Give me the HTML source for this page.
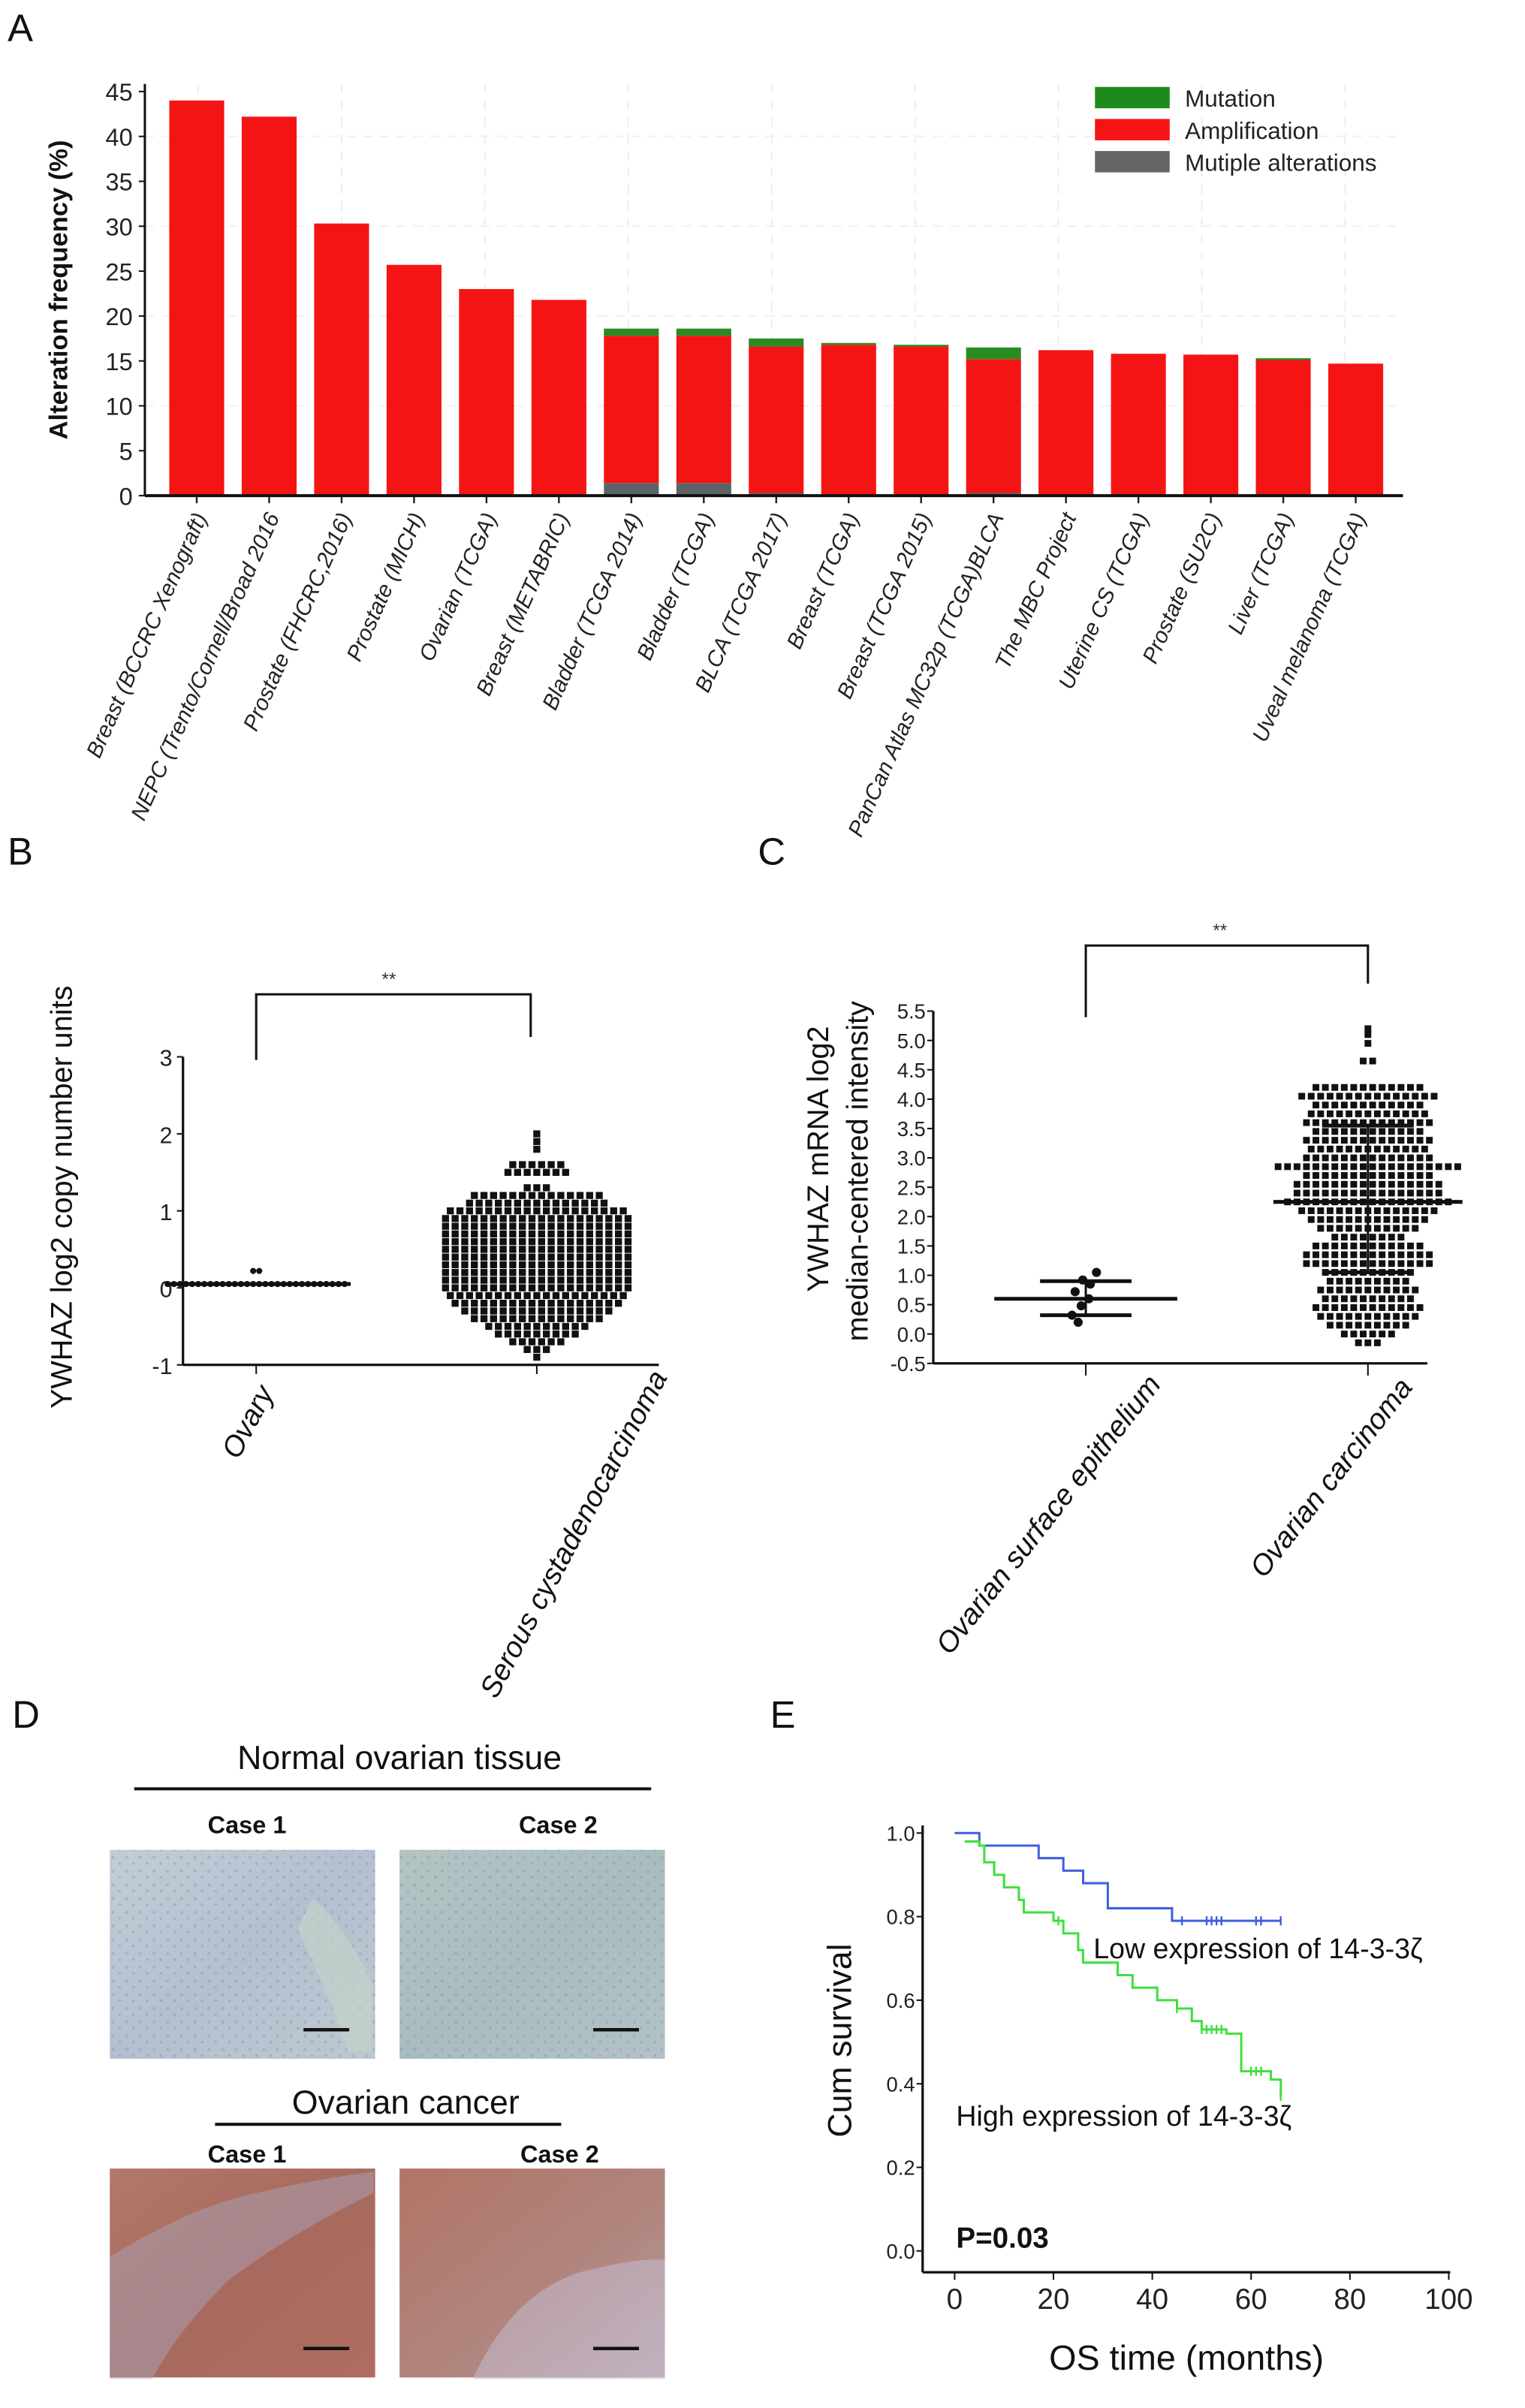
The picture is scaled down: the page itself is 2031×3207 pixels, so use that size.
<!DOCTYPE html>
<html><head><meta charset="utf-8"><style>
html,body{margin:0;padding:0;background:#fff;}
svg{display:block;}
text{font-family:"Liberation Sans Narrow","Liberation Sans",sans-serif;}
</style></head><body>
<svg id="fig" xmlns="http://www.w3.org/2000/svg" width="2031" height="3207" viewBox="0 0 1000 1579">
<defs>
<linearGradient id="gN1" x1="0" y1="0" x2="1" y2="1"><stop offset="0" stop-color="#c3cdd6"/><stop offset="0.5" stop-color="#b4c0cf"/><stop offset="1" stop-color="#bcc8cf"/></linearGradient>
<linearGradient id="gN2" x1="0" y1="0" x2="1" y2="1"><stop offset="0" stop-color="#b3c4c2"/><stop offset="0.5" stop-color="#a9bcc0"/><stop offset="1" stop-color="#b2c2c6"/></linearGradient>
<linearGradient id="gC1" x1="0" y1="0" x2="1" y2="1"><stop offset="0" stop-color="#b27868"/><stop offset="0.5" stop-color="#a86a5e"/><stop offset="1" stop-color="#b06c60"/></linearGradient>
<linearGradient id="gC2" x1="0" y1="0" x2="1" y2="1"><stop offset="0" stop-color="#b27466"/><stop offset="0.6" stop-color="#b0867f"/><stop offset="1" stop-color="#bba6ab"/></linearGradient>
<pattern id="speck" width="9" height="9" patternUnits="userSpaceOnUse"><circle cx="2" cy="3" r="1.1" fill="#7f8cb8" opacity="0.35"/><circle cx="6.5" cy="7" r="0.9" fill="#6b7aa8" opacity="0.3"/></pattern>
</defs>
</svg>
<script>
// ---------- Panel A data ----------
const aCategories = ["Breast (BCCRC Xenograft)","NEPC (Trento/Cornell/Broad 2016","Prostate (FHCRC,2016)","Prostate (MICH)","Ovarian (TCGA)","Breast (METABRIC)","Bladder (TCGA 2014)","Bladder (TCGA)","BLCA (TCGA 2017)","Breast (TCGA)","Breast (TCGA 2015)","PanCan Atlas MC32p (TCGA)BLCA","The MBC Project","Uterine CS (TCGA)","Prostate (SU2C)","Liver (TCGA)","Uveal melanoma (TCGA)"];
const aMultiple = [0,0,0,0,0,0,1.4,1.4,0.3,0,0,0.3,0,0,0,0,0];
const aAmplification = [44,42.2,30.3,25.7,23,21.8,16.4,16.4,16.3,16.8,16.6,14.9,16.2,15.8,15.7,15.1,14.7];
const aMutation = [0,0,0,0,0,0,0.8,0.8,0.9,0.2,0.2,1.3,0,0,0,0.2,0];
const aTicks = [0,5,10,15,20,25,30,35,40,45];
// ---------- Panel B data ----------
const bOvaryValues = [0.05,0.22];
const bOvaryCounts = [30,2];
const bSerousValues = [-0.9,-0.8,-0.7,-0.6,-0.5,-0.4,-0.3,-0.2,-0.1,0,0.1,0.2,0.3,0.4,0.5,0.6,0.7,0.8,0.9,1.0,1.1,1.2,1.3,1.5,1.6,1.8,1.9,2.0];
const bSerousCounts = [1,3,6,9,11,14,16,18,19,20,20,20,20,20,20,20,20,20,20,19,15,14,3,7,6,1,1,1];
const bTicks = [-1,0,1,2,3];
// ---------- Panel C data ----------
const cOSEValues = [1.05,0.92,0.85,0.72,0.6,0.48,0.32,0.2];
const cOSEMean = 0.6, cOSEUpper = 0.9, cOSELower = 0.32;
const cOCValues = [-0.15,0.0,0.15,0.3,0.45,0.6,0.75,0.9,1.05,1.2,1.35,1.5,1.65,1.8,1.95,2.1,2.25,2.4,2.55,2.7,2.85,3.0,3.15,3.3,3.45,3.6,3.75,3.9,4.05,4.2,4.65,4.95,5.1,5.2];
const cOCCounts = [3,6,9,11,12,10,11,9,10,14,14,12,8,11,13,15,18,16,16,14,20,14,13,14,12,14,13,12,15,12,2,1,1,1];
const cOCMean = 2.25, cOCUpper = 3.55, cOCLower = 1.05;
const cTicks = [-0.5,0.0,0.5,1.0,1.5,2.0,2.5,3.0,3.5,4.0,4.5,5.0,5.5];
// ---------- Panel E data ----------
const eLowTimes = [0,5,17,22,26,31,44,66];
const eLowSurv = [1.0,0.97,0.94,0.91,0.88,0.82,0.79,0.79];
const eLowCensor = [46,51,52,53,54,61,62,66];
const eHighTimes = [2,5,6,8,10,13,14,20,22,25,26,33,36,41,45,48,50,55,58,64,66];
const eHighSurv = [0.98,0.97,0.93,0.9,0.87,0.84,0.81,0.79,0.76,0.72,0.69,0.66,0.63,0.6,0.58,0.55,0.53,0.52,0.43,0.41,0.37];
const eHighCensor = [21,45,50,51,52,53,54,60,61,62,66];
const eXTicks = [0,20,40,60,80,100];
const eYTicks = [0.0,0.2,0.4,0.6,0.8,1.0];

const NS="http://www.w3.org/2000/svg";
const svg=document.getElementById('fig');
function mk(tag,attrs,parent){const e=document.createElementNS(NS,tag);for(const k in attrs)e.setAttribute(k,attrs[k]);(parent||svg).appendChild(e);return e;}
function tx(str,x,y,size,attrs){const a=Object.assign({x:x,y:y,'font-size':size},attrs||{});const e=mk('text',a);e.textContent=str;return e;}
let el;

[["A",5,27],["B",5,567],["C",497,567],["D",8,1133],["E",505,1133]].forEach(p=>{
  el=tx(p[0],p[1],p[2],25,{fill:'#111'});
  
  
});

// ===== Panel A =====
const aX0=95,aX1=920,aY0=325,aY45=60;
const ay=v=>aY0-(v/45)*(aY0-aY45);
const ax=i=>129+i*47.5;
for(let i=0;i<9;i++){el=mk('line',{x1:130+i*94,y1:55,x2:130+i*94,y2:325,stroke:'#eee','stroke-dasharray':'6,5','stroke-width':1});
}
aTicks.forEach(t=>{if(t%10===0&&t>0){el=mk('line',{x1:95,y1:ay(t),x2:920,y2:ay(t),stroke:'#f0f0f0','stroke-dasharray':'6,5'});
}});
aCategories.forEach((c,i)=>{
  const w=36,x=ax(i)-w/2;
  let base=0;
  if(aMultiple[i]>0){el=mk('rect',{x:x,y:ay(aMultiple[i]),width:w,height:ay(0)-ay(aMultiple[i]),fill:'#5a6466'});
    }
  base=aMultiple[i];
  el=mk('rect',{x:x,y:ay(base+aAmplification[i]),width:w,height:ay(base)-ay(base+aAmplification[i]),fill:'#f51414'});
  
  base+=aAmplification[i];
  if(aMutation[i]>0){el=mk('rect',{x:x,y:ay(base+aMutation[i]),width:w,height:ay(base)-ay(base+aMutation[i]),fill:'#2a8a22'});
    }
  el=mk('line',{x1:ax(i),y1:aY0,x2:ax(i),y2:aY0+5,stroke:'#222','stroke-width':1.2});
  
  el=tx(c,0,0,14.5,{'font-style':'italic','text-anchor':'end',fill:'#222',transform:`translate(${ax(i)+7},${aY0+14}) rotate(-66)`});
  
});
el=mk('line',{x1:aX0,y1:aY0,x2:aX1,y2:aY0,stroke:'#111','stroke-width':2});

el=mk('line',{x1:aX0,y1:aY0,x2:aX0,y2:55,stroke:'#111','stroke-width':1.5});

aTicks.forEach(t=>{
  el=mk('line',{x1:aX0-4,y1:ay(t),x2:aX0,y2:ay(t),stroke:'#111'});
  
  el=tx(String(t),aX0-8,ay(t)+6,16,{'text-anchor':'end',fill:'#222'});
  
});
el=tx("Alteration frequency (%)",0,0,17,{'font-weight':'bold','text-anchor':'middle',fill:'#111',transform:'translate(44,190) rotate(-90)',style:'font-family:"Liberation Sans",sans-serif'});

[["#1e8a1e","Mutation",57],["#f51414","Amplification",78],["#666","Mutiple alterations",99]].forEach((l,i)=>{
  el=mk('rect',{x:718,y:l[2],width:49,height:14,fill:l[0]});
  
  el=tx(l[1],777,l[2]+13,15.5,{fill:'#222'});
  
});

// ===== Panel B =====
const bAx=120,bY0=895,bYtop=693;
const by=v=>bY0-(v+1)/4*(bY0-bYtop);
const bOvX=168,bSeX=352;
el=mk('line',{x1:bAx,y1:bYtop,x2:bAx,y2:bY0,stroke:'#111','stroke-width':1.6});

el=mk('line',{x1:bAx,y1:bY0,x2:432,y2:bY0,stroke:'#111','stroke-width':1.6});

bTicks.forEach(t=>{
  el=mk('line',{x1:bAx-4,y1:by(t),x2:bAx,y2:by(t),stroke:'#111'});
  
  el=tx(String(t),bAx-7,by(t)+6,15,{'text-anchor':'end',fill:'#222'});
  
});
[bOvX,bSeX].forEach(x=>{el=mk('line',{x1:x,y1:bY0,x2:x,y2:bY0+6,stroke:'#111'});
});
function swarm(cx,vals,counts,yf,size,sp,name,round){
  vals.forEach((v,i)=>{const n=counts[i];for(let k=0;k<n;k++){const off=(k-(n-1)/2)*sp;
    if(round){el=mk('circle',{cx:cx+off,cy:yf(v),r:size/2,fill:'#111'});}
    else{el=mk('rect',{x:cx+off-size/2,y:yf(v)-size/2,width:size,height:size,fill:'#111'});}
    }});
}
swarm(bOvX,bOvaryValues,bOvaryCounts,by,4,4,'point-ovary',true);
swarm(bSeX,bSerousValues,bSerousCounts,by,4.6,6.3,'point-serous',false);
el=mk('line',{x1:bOvX-60,y1:by(0.05),x2:bOvX+62,y2:by(0.05),stroke:'#111','stroke-width':2.5});

el=mk('polyline',{points:`${bOvX},695 ${bOvX},652 348,652 348,680`,fill:'none',stroke:'#111','stroke-width':1.5});

el=tx("**",255,646,12,{'text-anchor':'middle',fill:'#333'});

el=tx("YWHAZ log2 copy number units",0,0,19.5,{'text-anchor':'middle',fill:'#111',transform:'translate(47,785) rotate(-90)',style:'font-family:"Liberation Sans",sans-serif'});

el=tx("Ovary",0,0,19,{'font-style':'italic','text-anchor':'end',fill:'#111',transform:`translate(${bOvX+12},${bY0+18}) rotate(-62)`,style:'font-family:"Liberation Sans",sans-serif'});

el=tx("Serous cystadenocarcinoma",0,0,19,{'font-style':'italic','text-anchor':'end',fill:'#111',transform:`translate(${bSeX+86},${bY0+8}) rotate(-62)`,style:'font-family:"Liberation Sans",sans-serif'});


// ===== Panel C =====
const cAx=612,cY0=894,cYtop=663;
const cy=v=>cY0-(v+0.5)/6*(cY0-cYtop);
const cOSEX=712,cOCX=897;
el=mk('line',{x1:cAx,y1:cYtop,x2:cAx,y2:cY0,stroke:'#111','stroke-width':1.6});

el=mk('line',{x1:cAx,y1:cY0,x2:936,y2:cY0,stroke:'#111','stroke-width':1.6});

cTicks.forEach(t=>{
  el=mk('line',{x1:cAx-4,y1:cy(t),x2:cAx,y2:cy(t),stroke:'#111'});
  
  el=tx(t.toFixed(1),cAx-5,cy(t)+5,13.5,{'text-anchor':'end',fill:'#222'});
  
});
[cOSEX,cOCX].forEach(x=>{el=mk('line',{x1:x,y1:cY0,x2:x,y2:cY0+8,stroke:'#111'});
});
cOSEValues.forEach((v,i)=>{const off=[7,-2,3,-7,2,-3,-9,-5][i%8];
  el=mk('circle',{cx:cOSEX+off,cy:cy(v),r:3,fill:'#111'});
  });
swarm(cOCX,cOCValues,cOCCounts,cy,4.4,6.2,'point-oc',false);
function hl(x,y,w,name,sw){el=mk('line',{x1:x-w,y1:y,x2:x+w,y2:y,stroke:'#111','stroke-width':sw});}
hl(cOSEX,cy(cOSEMean),60,'mean-line-ose',2.5);hl(cOSEX,cy(cOSEUpper),30,'sd-line-ose',2.5);hl(cOSEX,cy(cOSELower),30,'sd-line-ose',2.5);
el=mk('line',{x1:cOSEX,y1:cy(cOSEUpper),x2:cOSEX,y2:cy(cOSELower),stroke:'#111','stroke-width':1.5});

hl(cOCX,cy(cOCMean),62,'mean-line-oc',2.5);hl(cOCX,cy(cOCUpper),30,'sd-line-oc',2.5);hl(cOCX,cy(cOCLower),30,'sd-line-oc',2.5);
el=mk('line',{x1:cOCX,y1:cy(cOCUpper),x2:cOCX,y2:cy(cOCLower),stroke:'#111','stroke-width':1.5});

el=mk('polyline',{points:`${cOSEX},667 ${cOSEX},620 ${cOCX},620 ${cOCX},645`,fill:'none',stroke:'#111','stroke-width':1.5});

el=tx("**",800,614,12,{'text-anchor':'middle',fill:'#333'});

el=tx("YWHAZ mRNA log2",0,0,19.5,{'text-anchor':'middle',fill:'#111',transform:'translate(543,760) rotate(-90)',style:'font-family:"Liberation Sans",sans-serif'});

el=tx("median-centered intensity",0,0,19.5,{'text-anchor':'middle',fill:'#111',transform:'translate(569,768) rotate(-90)',style:'font-family:"Liberation Sans",sans-serif'});

el=tx("Ovarian surface epithelium",0,0,19,{'font-style':'italic','text-anchor':'end',fill:'#111',transform:`translate(${cOSEX+50},${cY0+14}) rotate(-52)`,style:'font-family:"Liberation Sans",sans-serif'});

el=tx("Ovarian carcinoma",0,0,19,{'font-style':'italic','text-anchor':'end',fill:'#111',transform:`translate(${cOCX+30},${cY0+16}) rotate(-52)`,style:'font-family:"Liberation Sans",sans-serif'});


// ===== Panel D =====
el=tx("Normal ovarian tissue",262,1160,22,{'text-anchor':'middle',fill:'#111'});

el=mk('line',{x1:88,y1:1173,x2:427,y2:1173,stroke:'#111','stroke-width':2});

el=tx("Ovarian cancer",266,1386,22,{'text-anchor':'middle',fill:'#111'});

el=mk('line',{x1:141,y1:1393,x2:368,y2:1393,stroke:'#111','stroke-width':2});

[["Case 1",162,1202],["Case 2",366,1202],["Case 1",162,1418],["Case 2",367,1418]].forEach(c=>{
  el=tx(c[0],c[1],c[2],16,{'text-anchor':'middle','font-weight':'bold',fill:'#111'});
  });
[[72,1213,'gN1','normal-case1-image'],[262,1213,'gN2','normal-case2-image'],[72,1422,'gC1','cancer-case1-image'],[262,1422,'gC2','cancer-case2-image']].forEach((im,i)=>{
  el=mk('rect',{x:im[0],y:im[1],width:174,height:137,fill:`url(#${im[2]})`});
  
  if(i<2){el=mk('rect',{x:im[0],y:im[1],width:174,height:137,fill:'url(#speck)'});
    }
});
el=mk('path',{d:'M195,1265 Q215,1305 228,1345 L244,1345 L244,1300 Q225,1262 205,1245 Z',fill:'#c2d2c8',opacity:0.75});

el=mk('path',{d:'M72,1480 Q120,1450 160,1440 Q200,1430 245,1424 L245,1438 Q190,1465 150,1495 Q115,1530 100,1560 L72,1560 Z',fill:'#a9a9c3',opacity:0.45});

el=mk('path',{d:'M310,1560 Q335,1505 380,1490 Q420,1480 436,1482 L436,1560 Z',fill:'#c4bccf',opacity:0.55});

[[72,1213],[262,1213],[72,1422],[262,1422]].forEach(im=>{
  el=mk('line',{x1:im[0]+127,y1:im[1]+118,x2:im[0]+157,y2:im[1]+118,stroke:'#111','stroke-width':2.2});
  
});

// ===== Panel E =====
const eAx=605,eY0=1490;
const ex=t=>626+t/100*(950-626);
const ey=s=>1476-s*(1476-1202);
el=mk('line',{x1:eAx,y1:1197,x2:eAx,y2:eY0,stroke:'#111','stroke-width':1.6});

el=mk('line',{x1:eAx,y1:eY0,x2:951,y2:eY0,stroke:'#111','stroke-width':1.6});

eYTicks.forEach(t=>{
  el=mk('line',{x1:eAx-4,y1:ey(t),x2:eAx,y2:ey(t),stroke:'#111'});
  
  el=tx(t.toFixed(1),eAx-5,ey(t)+5,13.5,{'text-anchor':'end',fill:'#222'});
  });
eXTicks.forEach(t=>{
  el=mk('line',{x1:ex(t),y1:eY0,x2:ex(t),y2:eY0+5,stroke:'#111'});
  
  el=tx(String(t),ex(t),eY0+24,19,{'text-anchor':'middle',fill:'#222'});
  });
function stepPath(ts,ss){let d=`M${ex(ts[0])},${ey(ss[0])}`;for(let i=1;i<ts.length;i++){d+=` H${ex(ts[i])} V${ey(ss[i])}`;}return d;}
function survAt(ts,ss,t){let s=ss[0];for(let i=0;i<ts.length;i++){if(ts[i]<=t)s=ss[i];}return s;}
el=mk('path',{d:stepPath(eLowTimes,eLowSurv),fill:'none',stroke:'#4060e0','stroke-width':1.5});

eLowCensor.forEach(t=>{const y=ey(survAt(eLowTimes,eLowSurv,t));el=mk('line',{x1:ex(t),y1:y-3,x2:ex(t),y2:y+3,stroke:'#4060e0','stroke-width':1.2});
});
el=mk('path',{d:stepPath(eHighTimes,eHighSurv),fill:'none',stroke:'#3ee03e','stroke-width':1.5});

eHighCensor.forEach(t=>{const y=ey(survAt(eHighTimes,eHighSurv,t));el=mk('line',{x1:ex(t),y1:y-3,x2:ex(t),y2:y+3,stroke:'#3ee03e','stroke-width':1.2});
});
el=tx("Low expression of 14-3-3ζ",717,1284,18.5,{fill:'#111'});

el=tx("High expression of 14-3-3ζ",627,1394,18.5,{fill:'#111'});

el=tx("P=0.03",627,1474,19,{fill:'#111','font-weight':'bold'});

el=tx("Cum survival",0,0,22,{'text-anchor':'middle',fill:'#111',transform:'translate(558,1338) rotate(-90)',style:'font-family:"Liberation Sans",sans-serif'});

el=tx("OS time (months)",778,1554,23,{'text-anchor':'middle',fill:'#111'});

</script>
</body></html>
